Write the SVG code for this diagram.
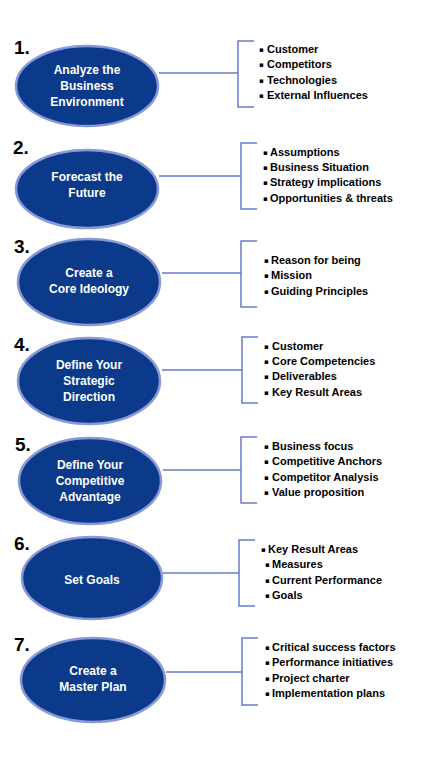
<svg xmlns="http://www.w3.org/2000/svg" width="425" height="764" viewBox="0 0 425 764">
<style>
.bg{fill:#ffffff}
.ell{fill:#0b3a8b;stroke:#8898d8;stroke-width:2.5}
.num{font-family:"Liberation Sans",Arial,sans-serif;font-weight:bold;font-size:19px;fill:#000}
.et{font-family:"Liberation Sans",Arial,sans-serif;font-weight:bold;font-size:12px;fill:#fff;text-anchor:middle}
.it{font-family:"Liberation Sans",Arial,sans-serif;font-weight:bold;font-size:11px;fill:#000}
.bu{font-family:"DejaVu Sans",sans-serif;font-size:7px;fill:#000}
.con{fill:none;stroke:#6a7bcb;stroke-width:1.5}
</style>
<rect class="bg" x="0" y="0" width="425" height="764"/>
<g id="connectors">
<path class="con" d="M159 73H238M254 41H238V107H254"/>
<path class="con" d="M159 176H241M257 143H241V209H257"/>
<path class="con" d="M162 273H241M257 241H241V307H257"/>
<path class="con" d="M162 370H242M258 337H242V403H258"/>
<path class="con" d="M163 470H241M257 437H241V503H257"/>
<path class="con" d="M163 573H239M255 540H239V606H255"/>
<path class="con" d="M166 672H242M258 638H242V705H258"/>
</g>
<g id="node1">
<ellipse class="ell" cx="87" cy="86" rx="71" ry="40"/>
<text class="num" x="14" y="54">1.</text>
<text class="et" x="87" y="74">Analyze the</text>
<text class="et" x="87" y="90">Business</text>
<text class="et" x="87" y="106">Environment</text>
</g>
<g id="list1">
<text class="bu" x="259" y="52">▪</text><text class="it" x="267" y="53">Customer</text>
<text class="bu" x="259" y="67">▪</text><text class="it" x="267" y="68">Competitors</text>
<text class="bu" x="259" y="83">▪</text><text class="it" x="267" y="84">Technologies</text>
<text class="bu" x="259" y="98">▪</text><text class="it" x="267" y="99">External Influences</text>
</g>
<g id="node2">
<ellipse class="ell" cx="87" cy="189" rx="71" ry="39"/>
<text class="num" x="13" y="154">2.</text>
<text class="et" x="87" y="181">Forecast the</text>
<text class="et" x="87" y="197">Future</text>
</g>
<g id="list2">
<text class="bu" x="263" y="155">▪</text><text class="it" x="270" y="156">Assumptions</text>
<text class="bu" x="263" y="170">▪</text><text class="it" x="270" y="171">Business Situation</text>
<text class="bu" x="263" y="185">▪</text><text class="it" x="270" y="186">Strategy implications</text>
<text class="bu" x="263" y="201">▪</text><text class="it" x="270" y="202">Opportunities &amp; threats</text>
</g>
<g id="node3">
<ellipse class="ell" cx="89" cy="282" rx="71" ry="43"/>
<text class="num" x="14" y="253">3.</text>
<text class="et" x="89" y="277">Create a</text>
<text class="et" x="89" y="293">Core Ideology</text>
</g>
<g id="list3">
<text class="bu" x="264" y="263">▪</text><text class="it" x="271" y="264">Reason for being</text>
<text class="bu" x="264" y="278">▪</text><text class="it" x="271" y="279">Mission</text>
<text class="bu" x="264" y="294">▪</text><text class="it" x="271" y="295">Guiding Principles</text>
</g>
<g id="node4">
<ellipse class="ell" cx="89" cy="381" rx="71" ry="43"/>
<text class="num" x="14" y="351">4.</text>
<text class="et" x="89" y="369">Define Your</text>
<text class="et" x="89" y="385">Strategic</text>
<text class="et" x="89" y="401">Direction</text>
</g>
<g id="list4">
<text class="bu" x="264" y="349">▪</text><text class="it" x="272" y="350">Customer</text>
<text class="bu" x="264" y="364">▪</text><text class="it" x="272" y="365">Core Competencies</text>
<text class="bu" x="264" y="379">▪</text><text class="it" x="272" y="380">Deliverables</text>
<text class="bu" x="264" y="395">▪</text><text class="it" x="272" y="396">Key Result Areas</text>
</g>
<g id="node5">
<ellipse class="ell" cx="90" cy="481" rx="71" ry="43"/>
<text class="num" x="15" y="451">5.</text>
<text class="et" x="90" y="469">Define Your</text>
<text class="et" x="90" y="485">Competitive</text>
<text class="et" x="90" y="501">Advantage</text>
</g>
<g id="list5">
<text class="bu" x="264" y="449">▪</text><text class="it" x="272" y="450">Business focus</text>
<text class="bu" x="264" y="464">▪</text><text class="it" x="272" y="465">Competitive Anchors</text>
<text class="bu" x="264" y="480">▪</text><text class="it" x="272" y="481">Competitor Analysis</text>
<text class="bu" x="264" y="495">▪</text><text class="it" x="272" y="496">Value proposition</text>
</g>
<g id="node6">
<ellipse class="ell" cx="92" cy="578" rx="70" ry="41"/>
<text class="num" x="14" y="550">6.</text>
<text class="et" x="92" y="584">Set Goals</text>
</g>
<g id="list6">
<text class="bu" x="261" y="552">▪</text><text class="it" x="268" y="553">Key Result Areas</text>
<text class="bu" x="265" y="567">▪</text><text class="it" x="272" y="568">Measures</text>
<text class="bu" x="265" y="583">▪</text><text class="it" x="272" y="584">Current Performance</text>
<text class="bu" x="265" y="598">▪</text><text class="it" x="272" y="599">Goals</text>
</g>
<g id="node7">
<ellipse class="ell" cx="93" cy="680" rx="72" ry="42"/>
<text class="num" x="14" y="651">7.</text>
<text class="et" x="93" y="675">Create a</text>
<text class="et" x="93" y="691">Master Plan</text>
</g>
<g id="list7">
<text class="bu" x="265" y="650">▪</text><text class="it" x="272" y="651">Critical success factors</text>
<text class="bu" x="265" y="665">▪</text><text class="it" x="272" y="666">Performance initiatives</text>
<text class="bu" x="265" y="681">▪</text><text class="it" x="272" y="682">Project charter</text>
<text class="bu" x="265" y="696">▪</text><text class="it" x="272" y="697">Implementation plans</text>
</g>
</svg>
